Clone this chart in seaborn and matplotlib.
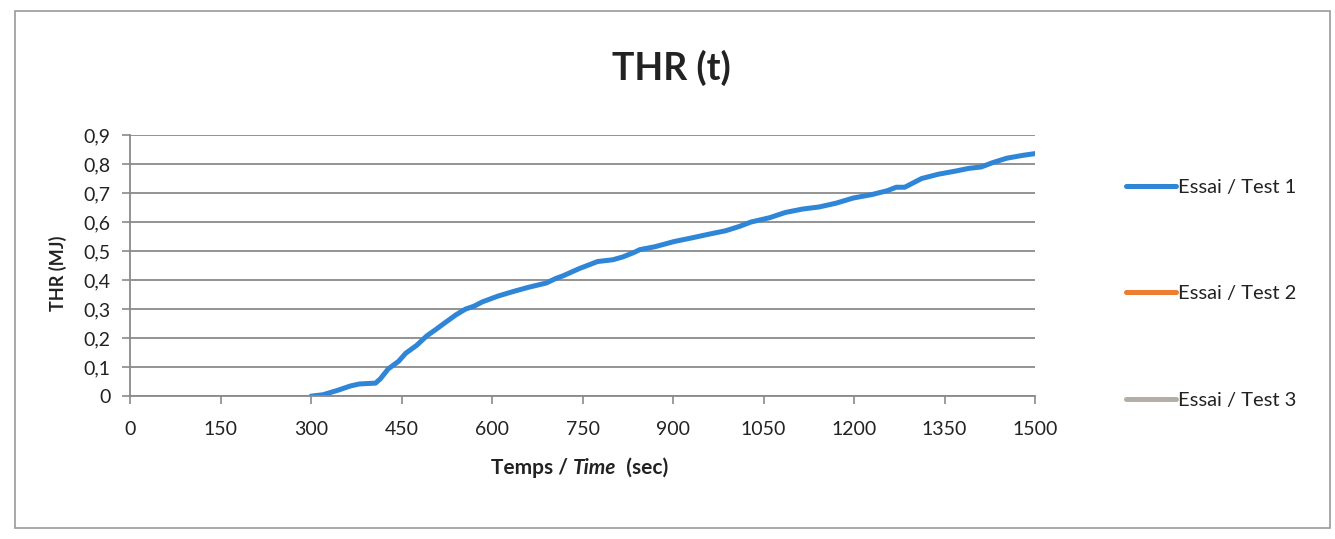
import pandas as pd
import matplotlib.pyplot as plt
import seaborn as sns
from matplotlib.offsetbox import TextArea, HPacker, AnchoredOffsetbox
from matplotlib.patches import Rectangle

# THR curve (time in s, THR in MJ)
time_s = [300, 320, 344, 365, 380, 407, 415, 428, 445, 457, 475, 492, 507, 520,
          540, 556, 570, 584, 610, 634, 660, 680, 690, 705, 718, 745, 775, 800,
          817, 835, 845, 870, 902, 930, 959, 987, 1010, 1029, 1060, 1086, 1115,
          1142, 1170, 1199, 1230, 1255, 1270, 1284, 1312, 1340, 1369, 1390, 1411,
          1430, 1453, 1480, 1500]
thr_test1 = [0.0, 0.005, 0.02, 0.035, 0.042, 0.045, 0.06, 0.094, 0.12, 0.148,
             0.175, 0.208, 0.23, 0.25, 0.28, 0.30, 0.31, 0.325, 0.345, 0.36,
             0.375, 0.385, 0.39, 0.405, 0.415, 0.44, 0.464, 0.47, 0.48, 0.495,
             0.505, 0.515, 0.533, 0.545, 0.558, 0.57, 0.585, 0.60, 0.615, 0.633,
             0.645, 0.652, 0.665, 0.683, 0.695, 0.708, 0.72, 0.72, 0.75, 0.765,
             0.776, 0.785, 0.79, 0.805, 0.82, 0.83, 0.836]
# tests 2 and 3 have no data in the chart, only legend entries
thr_test2 = []
thr_test3 = []

series_names = ['Essai / Test 1', 'Essai / Test 2', 'Essai / Test 3']
series_colors = ['#2f86d6', '#ed7d31', '#b4aea6']

x_ticks = [0, 150, 300, 450, 600, 750, 900, 1050, 1200, 1350, 1500]
y_ticks = [0, 0.1, 0.2, 0.3, 0.4, 0.5, 0.6, 0.7, 0.8, 0.9]
y_tick_labels = ['0', '0,1', '0,2', '0,3', '0,4', '0,5', '0,6', '0,7', '0,8', '0,9']

sns.set_theme(style='white')
plt.rcParams['font.family'] = ['Lato', 'DejaVu Sans']

df = pd.DataFrame({'time': time_s, 'thr': thr_test1})

fig = plt.figure(figsize=(13.35, 5.39), dpi=100)
ax = fig.add_axes([0.0974, 0.265, 0.6779, 0.4845])

sns.lineplot(data=df, x='time', y='thr', color=series_colors[0], lw=3.6,
             label=series_names[0], ax=ax)
ax.plot(time_s[:len(thr_test2)], thr_test2, color=series_colors[1], lw=3.6, label=series_names[1])
ax.plot(time_s[:len(thr_test3)], thr_test3, color=series_colors[2], lw=3.6, label=series_names[2])

ax.set_xlim(0, 1500)
ax.set_ylim(0, 0.9)
ax.set_xticks(x_ticks)
ax.set_xticklabels([str(t) for t in x_ticks])
ax.set_yticks(y_ticks)
ax.set_yticklabels(y_tick_labels)
ax.grid(axis='y', color='#8a8a8a', lw=1.3)
ax.set_axisbelow(True)

for side in ['top', 'right']:
    ax.spines[side].set_visible(False)
for side in ['left', 'bottom']:
    ax.spines[side].set_color('#8a8a8a')
    ax.spines[side].set_linewidth(1.3)

ax.tick_params(axis='both', which='major', direction='out', length=6,
               width=1.2, color='#8a8a8a', labelsize=14, labelcolor='#222222')
ax.tick_params(axis='x', pad=12, bottom=True)
ax.tick_params(axis='y', pad=8, left=True)

ax.set_xlabel('')
ax.set_ylabel('THR (MJ)', fontsize=13, fontweight='bold', color='#222222')
ax.yaxis.set_label_coords(-0.07, 0.47)

# x label with italic "Time"
lab_props = dict(fontsize=15, fontweight='bold', color='#222222')
parts = [TextArea('Temps / ', textprops=lab_props),
         TextArea('Time', textprops=dict(lab_props, fontstyle='italic')),
         TextArea('  (sec)', textprops=lab_props)]
box = HPacker(children=parts, align='baseline', pad=0, sep=0)
anchored = AnchoredOffsetbox(loc='upper center', child=box, pad=0, borderpad=0,
                             bbox_to_anchor=(0.497, -0.235), bbox_transform=ax.transAxes,
                             frameon=False)
ax.add_artist(anchored)

fig.text(0.503, 0.874, 'THR (t)', ha='center', va='center', fontsize=27,
         fontweight='bold', color='#222222')

leg = ax.legend(loc='center left', bbox_to_anchor=(0.836, 0.455),
                bbox_transform=fig.transFigure, frameon=False, fontsize=14.5,
                handlelength=2.5, handletextpad=0.1, labelspacing=4.45,
                borderpad=0)
for txt in leg.get_texts():
    txt.set_color('#222222')

# outer chart border of the scanned page
fig.patches.append(Rectangle((0.011, 0.02), 0.985, 0.96, transform=fig.transFigure,
                             fill=False, edgecolor='#9a9a9a', lw=1.2))

fig.savefig('out.png', dpi=100)
plt.close(fig)
